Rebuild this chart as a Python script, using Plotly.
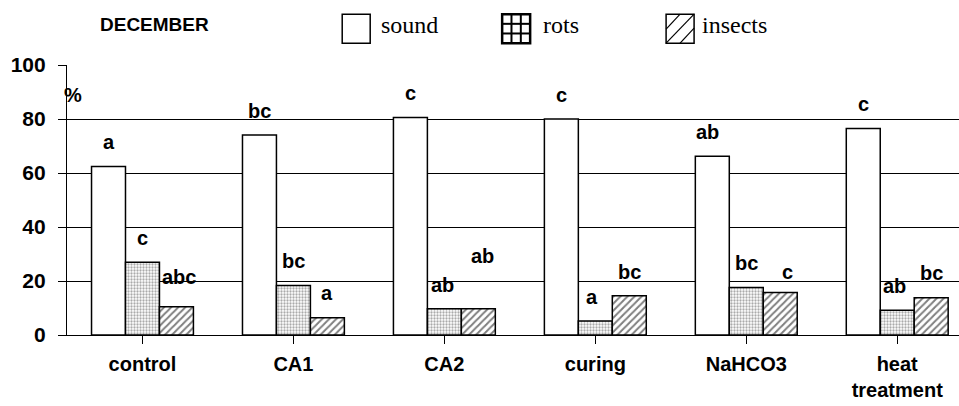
import plotly.graph_objects as go

categories = ["control", "CA1", "CA2", "curing", "NaHCO3", "heat<br>treatment"]
sound = [62.4, 74.1, 80.6, 80.0, 66.2, 76.5]
rots = [26.9, 18.3, 9.7, 5.2, 17.6, 9.2]
insects = [10.5, 6.4, 9.7, 14.5, 15.7, 13.8]
sound_letters = ["a", "bc", "c", "c", "ab", "c"]
rots_letters = ["c", "bc", "ab", "a", "bc", "ab"]
insects_letters = ["abc", "a", "ab", "bc", "c", "bc"]
y_ticks = [0, 20, 40, 60, 80, 100]

# layout geometry (pixels)
W, H = 959, 406
L, R = 66.7, 0
T, B = 64.9, 406 - 335.3
PW, PH = W - L - R, H - T - B
CAT_PX = 151.0
x_hi = -0.5 + PW / CAT_PX

SANS = "Liberation Sans, Arial, sans-serif"
SERIF = "Liberation Serif, Times New Roman, serif"

fig = go.Figure()
line = dict(color="black", width=1.5)
fig.add_trace(go.Bar(x=list(range(6)), y=sound, name="sound",
                     marker=dict(color="white", line=line)))
fig.add_trace(go.Bar(x=list(range(6)), y=rots, name="rots",
                     marker=dict(color="white", line=line,
                                 pattern=dict(shape=".", fgcolor="#555", bgcolor="white",
                                              size=3, solidity=0.45))))
fig.add_trace(go.Bar(x=list(range(6)), y=insects, name="insects",
                     marker=dict(color="white", line=line,
                                 pattern=dict(shape="/", fgcolor="black", bgcolor="white",
                                              size=5, solidity=0.4))))

bar_w = (1 - 0.325) / 3
annotations = []
label_gap = 9
insects_raise = [2, 0, 10.5, 0, -1.3, 0]
insects_xshift = [3, 0, 4, 0, 7, 0]
rots_xshift = [0, 0, -2, -3, 0, -3]
sound_xshift = [0, 0, 0, 0, -5, 0]
LBL = dict(family=SANS, size=20, color="black", weight="bold")
for i in range(6):
    for off, vals, letters, dy, dx in [
        (-bar_w, sound, sound_letters, 0, sound_xshift[i]),
        (0, rots, rots_letters, 0, rots_xshift[i]),
        (bar_w, insects, insects_letters, insects_raise[i], insects_xshift[i]),
    ]:
        annotations.append(dict(x=i + off, y=vals[i] + label_gap + dy, xref="x", yref="y",
                                text=letters[i], showarrow=False, xshift=dx,
                                xanchor="center", yanchor="middle", font=LBL))

def px(xp):
    return (xp - L) / PW

def py(yp):
    return (H - B - yp) / PH

annotations.append(dict(x=px(73), y=py(95), xref="paper", yref="paper", text="%",
                        showarrow=False, xanchor="center", yanchor="middle",
                        font=dict(family=SANS, size=20, color="black", weight="bold")))
annotations.append(dict(x=px(154), y=py(24), xref="paper", yref="paper", text="DECEMBER",
                        showarrow=False, xanchor="center", yanchor="middle",
                        font=dict(family=SANS, size=19, color="black", weight="bold")))

# legend (boxes + labels)
shapes = []
box_y0, box_y1 = 14, 43
legend_items = [("sound", 342, 379), ("rots", 502, 541), ("insects", 666, 700)]
for name, bx, tx in legend_items:
    bx1 = bx + 28
    shapes.append(dict(type="rect", xref="paper", yref="paper",
                       x0=px(bx), x1=px(bx1), y0=py(box_y1), y1=py(box_y0),
                       line=dict(color="black", width=1.5 if name != "rots" else 2.5),
                       fillcolor="white"))
    if name == "rots":
        for k in (1, 2):
            xx = bx + 28 * k / 3
            shapes.append(dict(type="line", xref="paper", yref="paper", x0=px(xx), x1=px(xx),
                               y0=py(box_y1), y1=py(box_y0), line=dict(color="black", width=2)))
            yy = box_y0 + 29 * k / 3
            shapes.append(dict(type="line", xref="paper", yref="paper", x0=px(bx), x1=px(bx1),
                               y0=py(yy), y1=py(yy), line=dict(color="black", width=2)))
    if name == "insects":
        segs = [((bx, box_y0 + 15), (bx + 14, box_y0)),
                ((bx, box_y1), (bx1, box_y0)),
                ((bx + 14, box_y1), (bx1, box_y0 + 14))]
        for (x0, y0), (x1, y1) in segs:
            shapes.append(dict(type="line", xref="paper", yref="paper", x0=px(x0), x1=px(x1),
                               y0=py(y0), y1=py(y1), line=dict(color="black", width=1.2)))
    annotations.append(dict(x=px(tx), y=py(25), xref="paper", yref="paper", text=name,
                            xanchor="left", yanchor="middle", showarrow=False,
                            font=dict(family=SERIF, size=24, color="black")))

fig.update_layout(
    width=W, height=H,
    margin=dict(l=L, r=R, t=T, b=B, pad=0),
    paper_bgcolor="white", plot_bgcolor="white",
    barmode="group", bargap=0.325, bargroupgap=0,
    showlegend=False,
    annotations=annotations, shapes=shapes,
    xaxis=dict(range=[-0.5, x_hi], tickmode="array", tickvals=list(range(6)),
               ticktext=categories, ticks="outside", ticklen=8, tickwidth=1,
               tickcolor="black", tickson="boundaries",
               showline=True, linecolor="black", linewidth=1.2,
               showgrid=False, zeroline=False, ticklabelstandoff=3,
               tickfont=dict(family=SANS, size=20, color="black", weight="bold")),
    yaxis=dict(range=[0, 100], tickvals=y_ticks, ticks="outside", ticklen=8,
               tickcolor="black", showline=True, linecolor="black", linewidth=1.2,
               showgrid=True, gridcolor="black", gridwidth=1, zeroline=False,
               ticklabelstandoff=8,
               tickfont=dict(family=SANS, size=21, color="black", weight="bold")),
)

fig.write_html("out.html", config={"displayModeBar": False},
               post_script="document.body.style.margin='0';document.body.style.padding='0';")
